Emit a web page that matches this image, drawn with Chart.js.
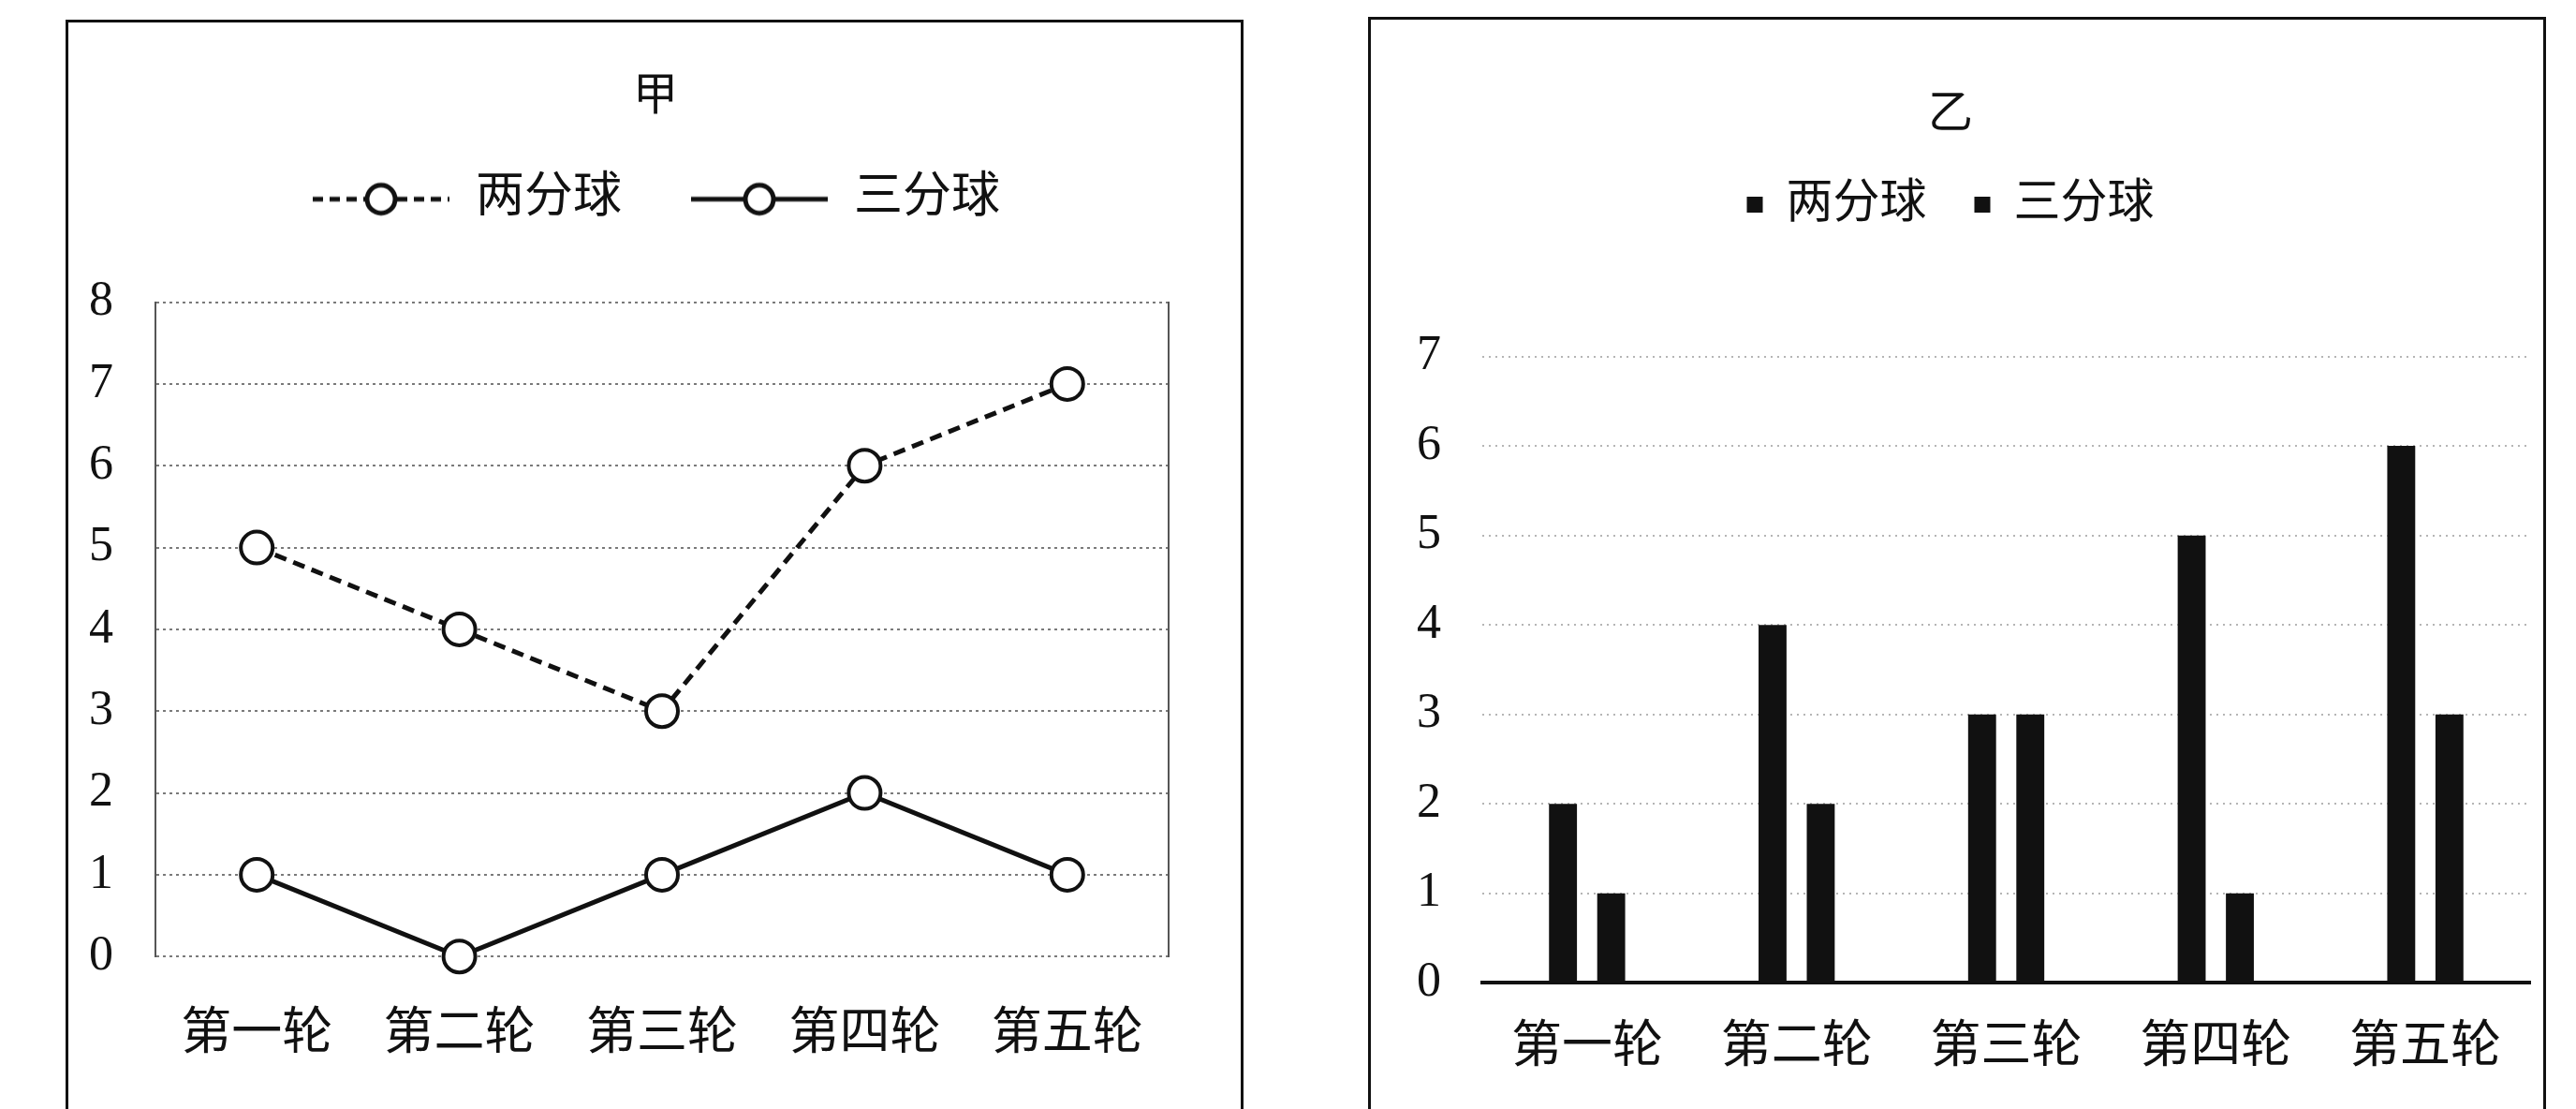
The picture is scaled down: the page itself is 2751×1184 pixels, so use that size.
<!DOCTYPE html>
<html>
<head>
<meta charset="utf-8">
<script src="https://cdn.jsdelivr.net/npm/chart.js@4"></script>
<style>
  html, body { margin: 0; padding: 0; background: #fff; }
  body { width: 2751px; height: 1184px; position: relative; overflow: hidden; }
  .frame { position: absolute; border: 3px solid #111; background: #fff; }
  .box { position: absolute; }
</style>
</head>
<body>
<div class="frame" style="left:70px; top:21px; width:1252px; height:1250px;"></div>
<div class="frame" style="left:1461px; top:18px; width:1252px; height:1250px;"></div>
<div class="box" style="left:73px; top:24px; width:1254px; height:1160px;"><canvas id="chartJia"></canvas></div>
<div class="box" style="left:1464px; top:21px; width:1292px; height:1163px;"><canvas id="chartYi"></canvas></div>
<script>
// 数据
const rounds = ['第一轮', '第二轮', '第三轮', '第四轮', '第五轮'];
const seriesNames = ['两分球', '三分球'];
const jiaTwo = [5, 4, 3, 6, 7];
const jiaThree = [1, 0, 1, 2, 1];
const yiTwo = [2, 4, 3, 5, 6];
const yiThree = [1, 2, 3, 1, 3];
const jiaMax = 8;
const yiMax = 7;

const ink = '#111111';
Chart.defaults.font.family = "'Liberation Serif', 'Noto Sans CJK SC', serif";
Chart.defaults.color = ink;

// 图例里的小图标: 线 + 空心圆
function legendIcon(dash) {
    const c = document.createElement('canvas');
    c.width = 150;
    c.height = 44;
    const g = c.getContext('2d');
    g.strokeStyle = ink;
    g.lineWidth = 5;
    g.setLineDash(dash);
    g.beginPath();
    g.moveTo(2, 22);
    g.lineTo(148, 22);
    g.stroke();
    g.setLineDash([]);
    g.beginPath();
    g.arc(75, 22, 15, 0, Math.PI * 2);
    g.fillStyle = '#fff';
    g.fill();
    g.stroke();
    return c;
}
const iconDash = legendIcon([11, 7]);
const iconSolid = legendIcon([]);

// 给图例下方留出空白
const legendGap = {
    id: 'legendGap',
    beforeLayout(chart, args, opts) {
        const legend = chart.legend;
        if (!legend || legend._gapPatched) return;
        const fit = legend.fit;
        legend.fit = function () {
            fit.call(this);
            this.height += opts.extra || 0;
        };
        legend._gapPatched = true;
    }
};

// 甲: 折线图
new Chart(document.getElementById('chartJia').getContext('2d'), {
    type: 'line',
    data: {
        labels: rounds,
        datasets: [
            {
                label: seriesNames[0],
                data: jiaTwo,
                borderColor: ink,
                borderWidth: 5,
                borderDash: [13, 8],
                pointRadius: 17,
                pointBorderWidth: 4,
                pointBackgroundColor: '#fff',
                pointBorderColor: ink,
                clip: false,
            },
            {
                label: seriesNames[1],
                data: jiaThree,
                borderColor: ink,
                borderWidth: 5,
                pointRadius: 17,
                pointBorderWidth: 4,
                pointBackgroundColor: '#fff',
                pointBorderColor: ink,
                clip: false,
            },
        ],
    },
    options: {
        responsive: true,
        maintainAspectRatio: false,
        animation: false,
        layout: { padding: { left: 0, right: 0, top: 0, bottom: -6 } },
        plugins: {
            title: {
                display: true,
                text: '甲',
                color: ink,
                font: { size: 48, weight: 'normal' },
                padding: { top: 52, bottom: -19 },
            },
            legend: {
                display: true,
                position: 'top',
                labels: {
                    color: ink,
                    font: { size: 52 },
                    padding: 72,
                    usePointStyle: true,
                    pointStyleWidth: 150,
                    generateLabels: () => [
                        { text: seriesNames[0], pointStyle: iconDash, fillStyle: '#fff', strokeStyle: ink, lineWidth: 0, datasetIndex: 0, fontColor: ink },
                        { text: seriesNames[1], pointStyle: iconSolid, fillStyle: '#fff', strokeStyle: ink, lineWidth: 0, datasetIndex: 1, fontColor: ink },
                    ],
                },
            },
            tooltip: { enabled: false },
            legendGap: { extra: 74 },
        },
        scales: {
            x: {
                offset: true,
                grid: { display: false, drawTicks: false },
                border: { display: false },
                ticks: { color: ink, font: { size: 54 }, padding: 52 },
            },
            y: {
                min: 0,
                max: jiaMax,
                afterFit: (scale) => { scale.width = 93; },
                grid: { color: '#7a7a7a', lineWidth: 2, drawTicks: false },
                border: { display: true, color: '#555', width: 2, dash: [3, 4] },
                ticks: { stepSize: 1, color: ink, font: { size: 52 }, padding: 45 },
            },
            y2: {
                position: 'right',
                min: 0,
                max: jiaMax,
                afterFit: (scale) => { scale.width = 79; },
                grid: { display: false, drawTicks: false },
                border: { display: true, color: '#555', width: 2 },
                ticks: { display: false },
            },
        },
    },
    plugins: [legendGap],
});

// 乙: 柱状图
new Chart(document.getElementById('chartYi').getContext('2d'), {
    type: 'bar',
    data: {
        labels: rounds,
        datasets: [
            { label: seriesNames[0], data: yiTwo, backgroundColor: ink, categoryPercentage: 0.46, barPercentage: 0.58 },
            { label: seriesNames[1], data: yiThree, backgroundColor: ink, categoryPercentage: 0.46, barPercentage: 0.58 },
        ],
    },
    options: {
        responsive: true,
        maintainAspectRatio: false,
        animation: false,
        layout: { padding: { left: 0, right: 54, top: 0, bottom: -6 } },
        plugins: {
            title: {
                display: true,
                text: '乙',
                color: ink,
                font: { size: 48, weight: 'normal' },
                padding: { top: 74, bottom: -10 },
            },
            legend: {
                display: true,
                position: 'top',
                labels: {
                    color: ink,
                    font: { size: 50 },
                    padding: 51,
                    boxWidth: 17,
                    boxHeight: 17,
                },
            },
            tooltip: { enabled: false },
            legendGap: { extra: 127 },
        },
        scales: {
            x: {
                grid: { display: false, drawTicks: false },
                border: { display: true, color: ink, width: 4 },
                ticks: { color: ink, font: { size: 54 }, padding: 38 },
            },
            y: {
                min: 0,
                max: yiMax,
                afterFit: (scale) => { scale.width = 119; },
                grid: { color: '#b5b5b5', lineWidth: 2, drawTicks: false },
                border: { display: false, dash: [2, 5] },
                ticks: { stepSize: 1, color: ink, font: { size: 52 }, padding: 44 },
            },
        },
    },
    plugins: [legendGap],
});
</script>
</body>
</html>
